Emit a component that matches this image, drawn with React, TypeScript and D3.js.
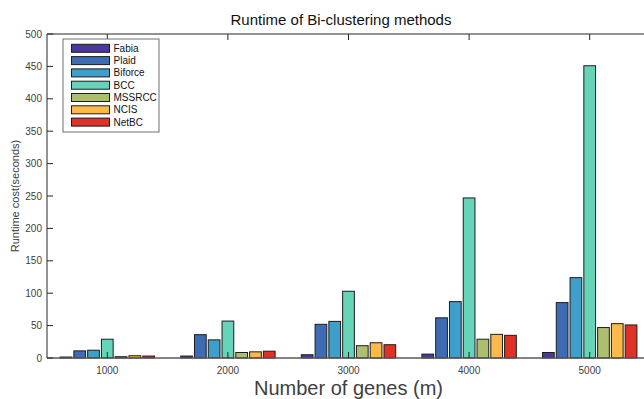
import React from 'react';
import * as d3 from 'd3';

const groups = ['1000', '2000', '3000', '4000', '5000'];
const methods = ['Fabia', 'Plaid', 'Biforce', 'BCC', 'MSSRCC', 'NCIS', 'NetBC'];
const colors = ['#4b389f', '#3d6cb5', '#3f9fcb', '#65d4b8', '#adbf6e', '#fdb94c', '#de3226'];

// runtime per method, one value per gene count
const fabia = [1.5, 3, 5, 6, 8.5];
const plaid = [11, 36, 52, 62, 85.5];
const biforce = [12, 28, 56.5, 87, 124];
const bcc = [29, 57, 103, 247, 451];
const mssrcc = [2, 8.5, 19, 29, 47];
const ncis = [3.5, 9.5, 23.5, 36.5, 53];
const netbc = [3, 10.5, 20.5, 35, 51];
const series = [fabia, plaid, biforce, bcc, mssrcc, ncis, netbc];

const yTicks = [0, 50, 100, 150, 200, 250, 300, 350, 400, 450, 500];

const W = 644;
const H = 399;
const left = 47;
const right = 650;
const top = 34;
const bottom = 358;
const axisColor = '#262626';
const font = 'Liberation Sans, Arial, sans-serif';

export default function App() {
  const x = d3.scaleBand<string>().domain(groups).range([left, right]).paddingInner(0).paddingOuter(0);
  const inner = d3
    .scaleBand<string>()
    .domain(methods)
    .range([x.bandwidth() * 0.1, x.bandwidth() * 0.9])
    .paddingInner(0.15)
    .paddingOuter(0.075);
  const y = d3.scaleLinear().domain([0, 500]).range([bottom, top]);
  const tick = 6;

  return (
    <svg
      width={W}
      height={H}
      style={{ position: 'fixed', left: 0, top: 0, background: '#fff' }}
      fontFamily={font}
    >
      <rect x={0} y={0} width={W} height={H} fill="#fff" />
      <text x={341} y={25} textAnchor="middle" fontSize={15} fill="#111">
        Runtime of Bi-clustering methods
      </text>

      {groups.map((g, gi) => (
        <g key={g} transform={`translate(${x(g)},0)`}>
          {methods.map((m, mi) => {
            const v = series[mi][gi];
            return (
              <rect
                key={m}
                x={inner(m)}
                y={y(v)}
                width={inner.bandwidth()}
                height={bottom - y(v)}
                fill={colors[mi]}
                stroke="#1c1c1c"
                strokeWidth={1}
              />
            );
          })}
        </g>
      ))}

      {/* axes box */}
      <line x1={left} x2={right} y1={bottom} y2={bottom} stroke="#5a5a5a" strokeWidth={1.5} />
      <line x1={left} x2={right} y1={top} y2={top} stroke={axisColor} />
      <line x1={left} x2={left} y1={top} y2={bottom} stroke={axisColor} />
      <line x1={right} x2={right} y1={top} y2={bottom} stroke={axisColor} />

      {yTicks.map((t) => (
        <g key={t}>
          <line x1={left} x2={left + tick} y1={y(t)} y2={y(t)} stroke={axisColor} />
          <line x1={right - tick} x2={right} y1={y(t)} y2={y(t)} stroke={axisColor} />
          <text x={left - 5} y={y(t)} dy="0.35em" textAnchor="end" fontSize={10} fill="#404040">
            {t}
          </text>
        </g>
      ))}

      {groups.map((g) => {
        const cx = (x(g) as number) + x.bandwidth() / 2;
        return (
          <g key={g}>
            <line x1={cx} x2={cx} y1={bottom} y2={bottom - tick} stroke={axisColor} />
            <line x1={cx} x2={cx} y1={top} y2={top + tick} stroke={axisColor} />
            <text x={cx} y={374} textAnchor="middle" fontSize={10} fill="#404040">
              {g}
            </text>
          </g>
        );
      })}

      <text
        transform={`translate(19,${(top + bottom) / 2}) rotate(-90)`}
        textAnchor="middle"
        fontSize={11}
        fill="#404040"
      >
        Runtime cost(seconds)
      </text>
      <text x={(left + right) / 2} y={395} textAnchor="middle" fontSize={20} fill="#404040">
        Number of genes (m)
      </text>

      {/* legend */}
      <g>
        <rect x={63} y={39} width={96} height={93} fill="#fff" stroke="#6e6e6e" strokeWidth={1} />
        {methods.map((m, i) => {
          const cy = 48.3 + i * 12.3;
          return (
            <g key={m}>
              <rect x={71.5} y={cy - 4} width={38} height={8} fill={colors[i]} stroke="#1c1c1c" />
              <text x={113.5} y={cy} dy="0.35em" fontSize={10} fill="#111">
                {m}
              </text>
            </g>
          );
        })}
      </g>
    </svg>
  );
}
